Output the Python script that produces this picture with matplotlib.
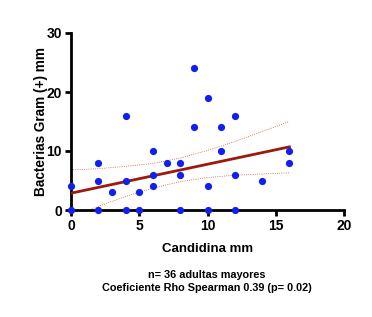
import matplotlib
matplotlib.use('Agg')
import matplotlib.pyplot as plt

# values
candidina = [0, 0, 2, 2, 2, 3, 4, 4, 4, 5, 5, 6, 6, 6, 7, 8, 8, 8,
             9, 9, 10, 10, 10, 11, 11, 12, 12, 12, 14, 16, 16]
bacterias = [0, 4, 8, 5, 0, 3, 16, 5, 0, 3, 0, 10, 6, 4, 8, 8, 6, 0,
             24, 14, 19, 4, 0, 14, 10, 16, 6, 0, 5, 10, 8]

# fitted line and 95% band
fit_x = [0, 16]
fit_y = [2.85, 10.7]
band_x = [0, 2, 4, 6, 8, 10, 12, 14, 16]
band_upper = [6.8, 7.0, 7.4, 7.9, 8.8, 10.1, 11.6, 13.3, 15.0]
band_lower = [-1.1, 0.6, 2.3, 3.7, 4.8, 5.5, 5.9, 6.1, 6.3]

x_ticks = [0, 5, 10, 15, 20]
y_ticks = [0, 10, 20, 30]

plt.rcParams['font.family'] = ['Liberation Sans', 'DejaVu Sans']
plt.rcParams['font.weight'] = 'bold'

fig = plt.figure(figsize=(3.72, 3.17), dpi=100)
ax = fig.add_axes([71 / 372., 1 - 210 / 317., 273 / 372., 177 / 317.])

ax.plot(band_x, band_upper, color='#d0503a', lw=0.6, ls=':', zorder=2)
ax.plot(band_x, band_lower, color='#d0503a', lw=0.6, ls=':', zorder=2)
ax.plot(fit_x, fit_y, color='#9b1a0c', lw=2, zorder=3)
ax.scatter(candidina, bacterias, s=27, color='#1020f0', zorder=4, clip_on=False, linewidths=0)

ax.set_xlim(0, 20)
ax.set_ylim(0, 30)
ax.set_xticks(x_ticks)
ax.set_yticks(y_ticks)
for side in ('top', 'right'):
    ax.spines[side].set_visible(False)
for side in ('left', 'bottom'):
    ax.spines[side].set_linewidth(2)
ax.tick_params(width=2, length=4.5, labelsize=10, pad=2)
for lab in ax.get_xticklabels() + ax.get_yticklabels():
    lab.set_fontweight('bold')

ax.set_xlabel('Candidina mm', fontsize=9.5, fontweight='bold', labelpad=7)
ax.set_ylabel('Bacterias Gram (+) mm', fontsize=9.8, fontweight='bold', labelpad=-1)

fig.text(207 / 372., 1 - 275 / 317., 'n= 36 adultas mayores', ha='center', va='center',
         fontsize=7.8, fontweight='bold')
fig.text(207 / 372., 1 - 288 / 317., 'Coeficiente Rho Spearman 0.39 (p= 0.02)', ha='center',
         va='center', fontsize=7.8, fontweight='bold')

fig.savefig('out.png', dpi=100)
